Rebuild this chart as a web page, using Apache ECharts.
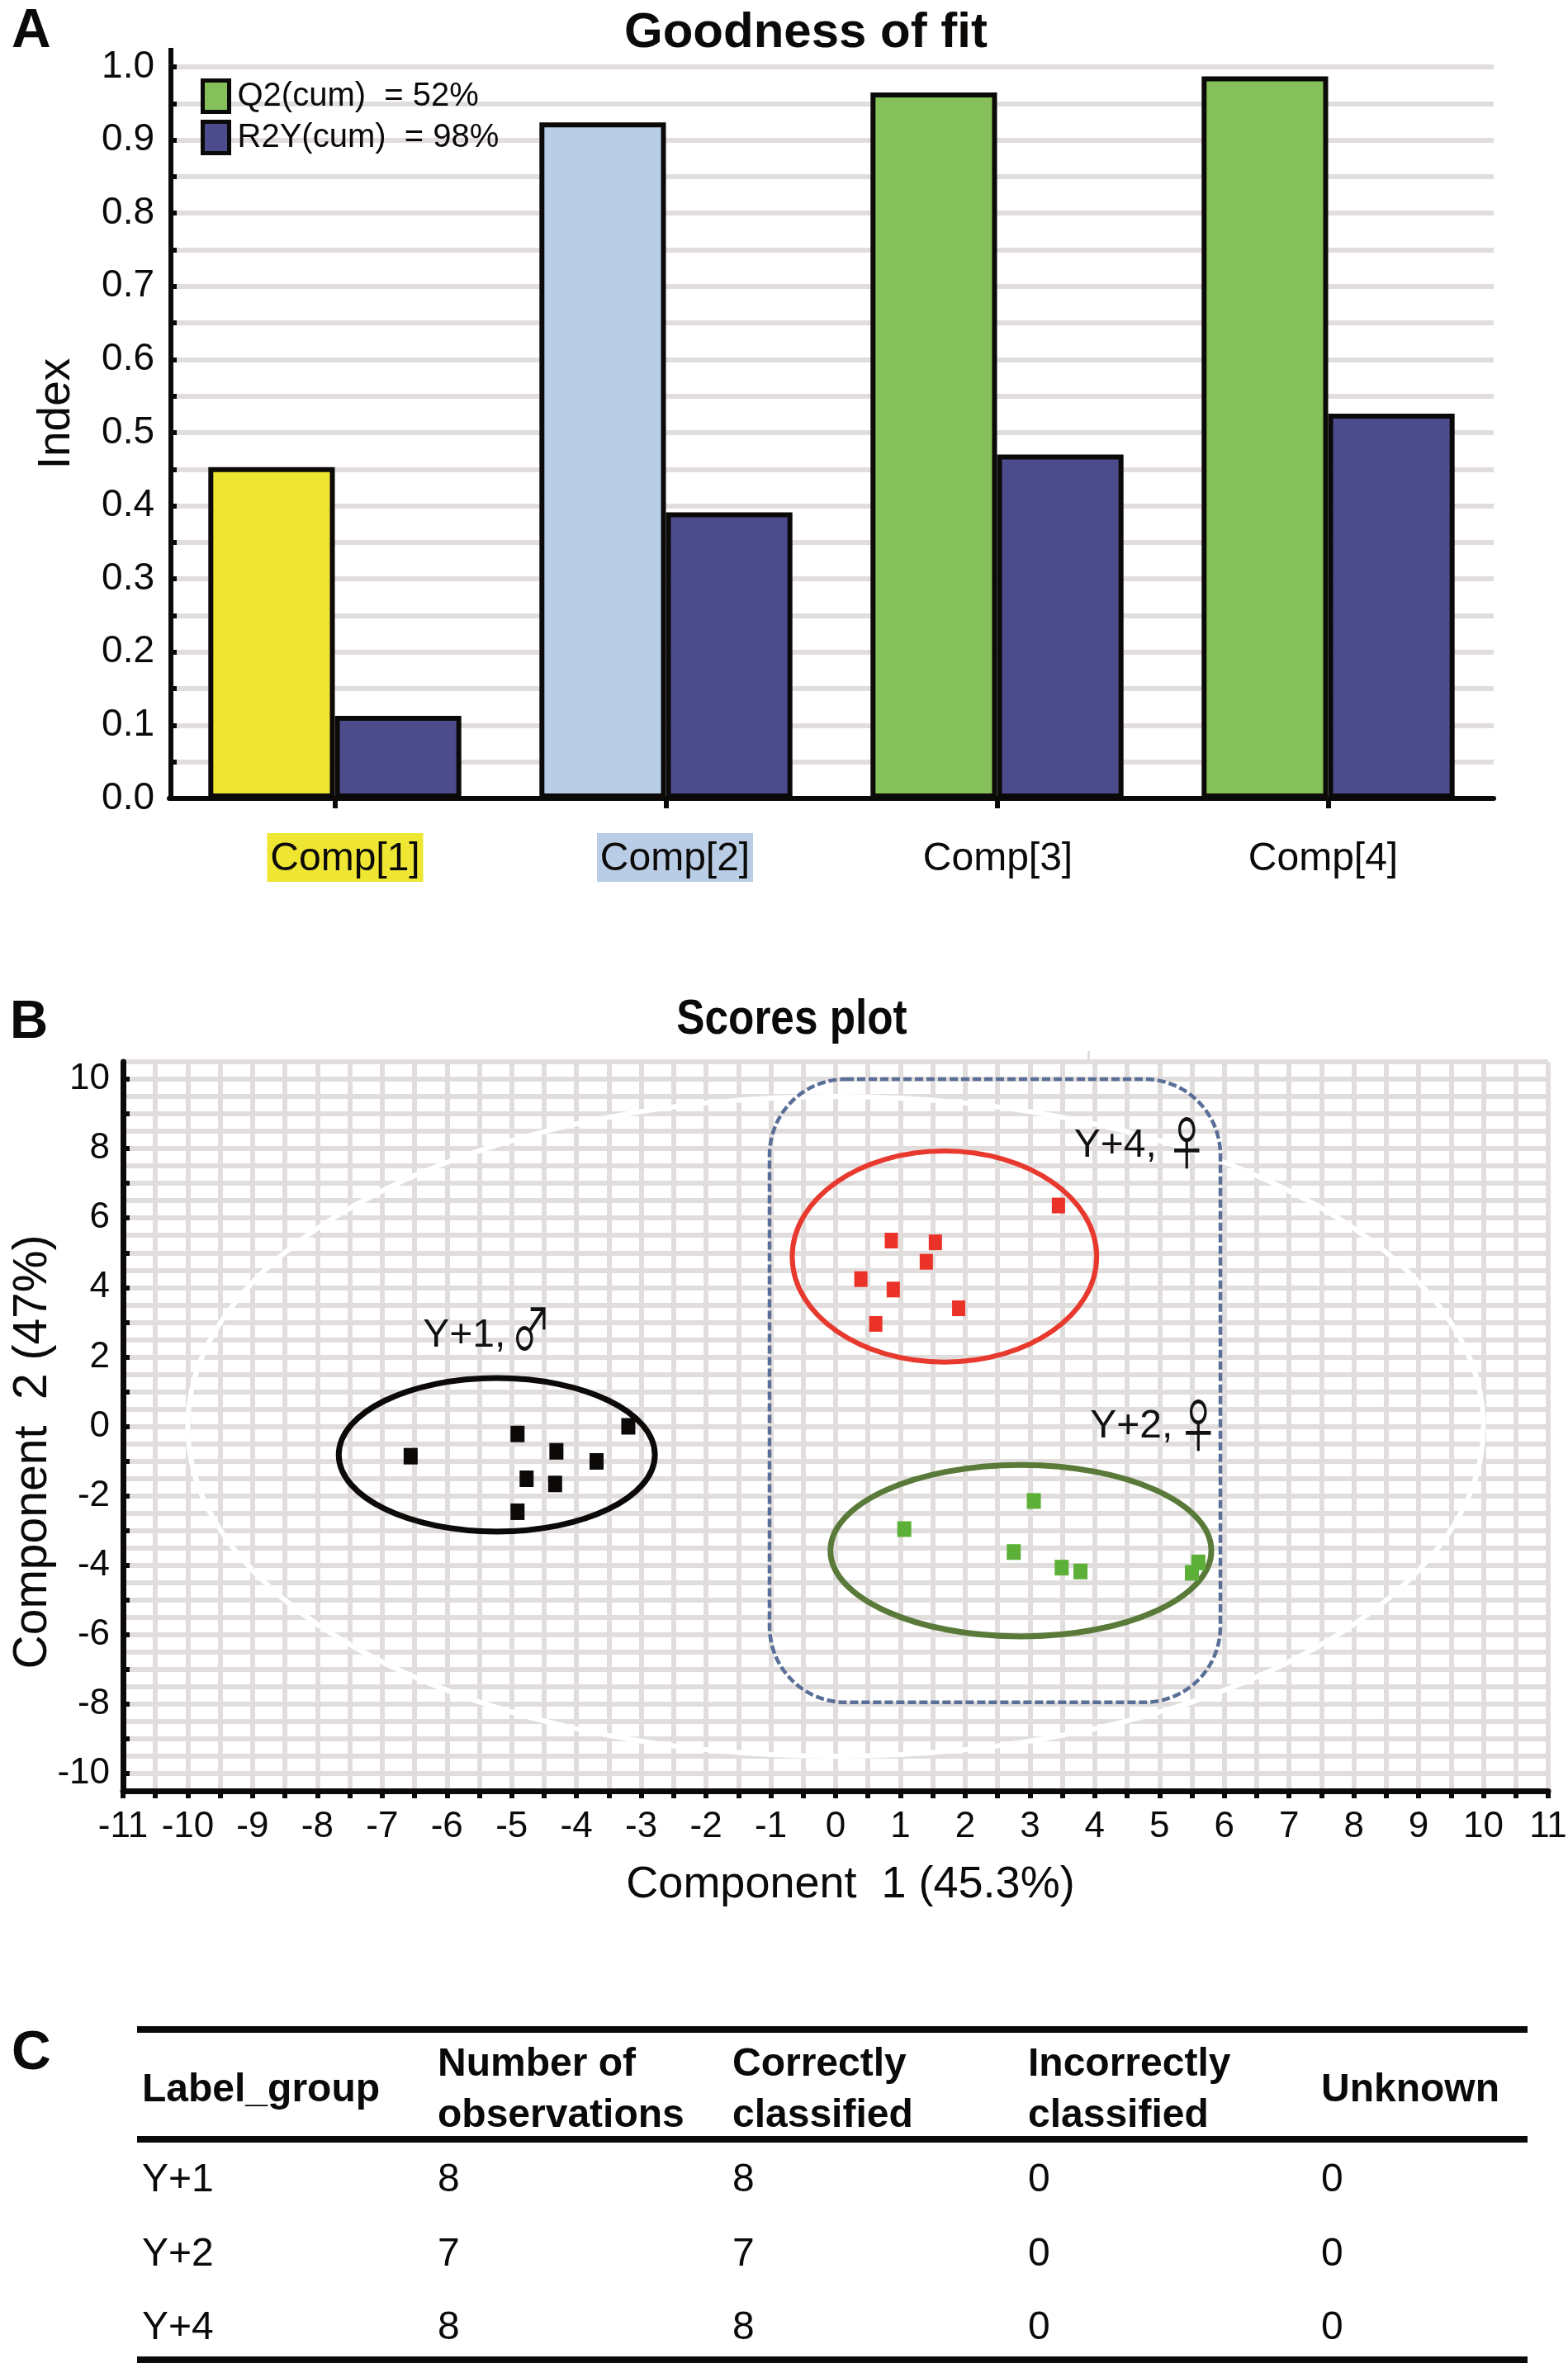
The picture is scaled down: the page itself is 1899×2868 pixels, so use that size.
<!DOCTYPE html>
<html><head><meta charset="utf-8">
<style>html,body{margin:0;padding:0;background:#fff}#c{width:1899px;height:2868px}</style>
<script src="https://cdn.jsdelivr.net/npm/echarts@6/dist/echarts.min.js"></script>
</head><body><div id="c"></div>
<script>
// ---- Panel A data
const compCategories = ['Comp[1]','Comp[2]','Comp[3]','Comp[4]'];
const q2Values = [0.453,0.924,0.965,0.987];
const r2yValues = [0.113,0.391,0.47,0.526];
const q2Colors = ['#eee633','#b9cde6','#86c05a','#86c05a'];
const legendNames = ['Q2(cum)  = 52%','R2Y(cum)  = 98%'];
// ---- Panel B data
const scoresY1 = [[-6.56,-0.86],[-4.91,-0.22],[-4.31,-0.72],[-4.77,-1.51],[-4.33,-1.66],[-3.69,-1.01],[-3.2,0],[-4.91,-2.46]];
const scoresY4 = [[3.44,6.36],[0.86,5.35],[1.54,5.30],[1.40,4.74],[0.39,4.24],[0.89,3.94],[1.90,3.40],[0.62,2.95]];
const scoresY2 = [[3.06,-2.15],[1.06,-2.96],[2.75,-3.62],[3.49,-4.07],[3.78,-4.18],[5.60,-3.92],[5.50,-4.22]];
const ellipseY1 = [-5.23,-0.82,2.44,2.21];
const ellipseY4 = [1.68,4.89,2.35,3.04];
const ellipseY2 = [2.86,-3.58,2.94,2.47];
const ellipseT2 = [0,0,10,9.5];
const groupBox = [-1.02,10,5.94,-7.95];
const noteTexts = ['Y+1,','Y+4,','Y+2,'];
const notePoints = [[-6.37,2.6],[3.68,8.07],[3.93,0]];
const genderTexts = ['\u2642','\u2640','\u2640'];
const genderPoints = [[-4.7,2.82],[5.42,8.17],[5.60,0.03]];
// ---- Panel C data
const tableHead = ['Label_group','Number of\nobservations','Correctly\nclassified','Incorrectly\nclassified','Unknown'];
const tableRows = [['Y+1','8','8','0','0'],['Y+2','7','7','0','0'],['Y+4','8','8','0','0']];

const SANS = '"Liberation Sans", Arial, sans-serif';
const GRIDC = '#e2dddd';
const INK = '#0c0a08';

function ellipseSeries(vals, color, lw, z){
  return {type:'custom',xAxisIndex:1,yAxisIndex:1,coordinateSystem:'cartesian2d',clip:false,z:z,silent:true,
    data:[vals],encode:{x:0,y:1},
    renderItem:function(p,api){
      const c=api.coord([api.value(0),api.value(1)]);
      const s=api.size([api.value(2),api.value(3)]);
      return {type:'ellipse',shape:{cx:c[0],cy:c[1],rx:s[0],ry:s[1]},style:{fill:null,stroke:color,lineWidth:lw}};
    }};
}
function textSeries(points,texts,font,align,sx){
  return {type:'custom',xAxisIndex:1,yAxisIndex:1,coordinateSystem:'cartesian2d',clip:false,z:6,silent:true,
    data:points,encode:{x:0,y:1},
    renderItem:function(p,api){
      const c=api.coord([api.value(0),api.value(1)]);
      return {type:'text',x:c[0],y:c[1],scaleX:sx,style:{text:texts[p.dataIndex],font:font,fill:'#111',align:align,verticalAlign:'middle'}};
    }};
}
function scatterSeries(name,data,color,size){
  return {type:'scatter',name:name,xAxisIndex:1,yAxisIndex:1,data:data,symbol:'rect',symbolSize:size,z:5,clip:false,
    itemStyle:{color:color,opacity:1},silent:true};
}

// Table drawn from arrays
const colX=[172,530,887,1245,1600];
const rowY=[2641,2731,2820];
const ruleY=[2454,2587,2854];
const tableGraphics=[];
ruleY.forEach(y=>tableGraphics.push({type:'rect',shape:{x:166,y:y,width:1684,height:8},style:{fill:INK}}));
tableHead.forEach((t,i)=>tableGraphics.push({type:'text',x:colX[i],y:2532,style:{text:t,font:'bold 48px '+SANS,fill:INK,lineHeight:62,verticalAlign:'middle',align:'left'}}));
tableRows.forEach((r,j)=>r.forEach((t,i)=>tableGraphics.push({type:'text',x:colX[i],y:rowY[j],style:{text:t,font:'48px '+SANS,fill:INK,verticalAlign:'middle',align:'left'}})));
const letter=(t,x,y,size)=>({type:'text',x:x,y:y,style:{text:t,font:'bold '+size+'px '+SANS,fill:INK,align:'left',verticalAlign:'middle'}});

const shift={ 'Comp[1]':'{s1| }{a|Comp[1]}', 'Comp[2]':'{s2| }{b|Comp[2]}', 'Comp[3]':'{s3| }{c|Comp[3]}', 'Comp[4]':'{c|Comp[4]}{s4| }' };
const labelBox={fontFamily:SANS,fontSize:48,color:INK,width:189,height:55,lineHeight:55,align:'center',padding:[4,0,0,0]};

const option={
  backgroundColor:'#fff',
  animation:false,
  textStyle:{fontFamily:SANS},
  title:[
    {text:'Goodness of fit',left:971,top:5,textAlign:'center',textStyle:{fontFamily:SANS,fontWeight:'bold',fontSize:60,color:INK}}
  ],
  legend:{show:true,orient:'vertical',left:238,top:90,icon:'rect',itemWidth:32,itemHeight:38,itemGap:7,data:legendNames,
    selectedMode:false,textStyle:{fontFamily:SANS,fontSize:40,color:INK,lineHeight:38,padding:[0,0,0,5]},
    itemStyle:{borderColor:INK,borderWidth:5}},
  grid:[
    {left:205,right:90,top:81,bottom:1901,outerBoundsMode:'none'},
    {left:149,right:24,top:1286,bottom:699,outerBoundsMode:'none'},
    {left:149,right:24,top:1307,bottom:720,outerBoundsMode:'none'}
  ],
  xAxis:[
    {type:'category',gridIndex:0,data:compCategories,
     axisLine:{lineStyle:{color:INK,width:6}},
     axisTick:{show:true,alignWithLabel:true,length:12,lineStyle:{color:INK,width:6}},
     axisLabel:{interval:0,margin:44,formatter:v=>shift[v],color:INK,
       rich:{
         a:Object.assign({},labelBox,{backgroundColor:'#eee633'}),
         b:Object.assign({},labelBox,{backgroundColor:'#b9cde6'}),
         c:labelBox,
         s1:{width:25,fontSize:10},s2:{width:22,fontSize:10},s3:{width:2,fontSize:10},s4:{width:12,fontSize:10}
       }},
     splitLine:{show:false}},
    {type:'value',gridIndex:1,min:-11,max:11,interval:0.5,
     name:'Component  1 (45.3%)',nameLocation:'middle',nameGap:87,
     nameTextStyle:{fontFamily:SANS,fontSize:54,color:INK,padding:[0,0,0,36]},
     axisLine:{onZero:false,lineStyle:{color:INK,width:7}},
     axisTick:{show:true,length:9,lineStyle:{color:INK,width:6}},
     axisLabel:{show:true,fontFamily:SANS,fontSize:44,color:INK,margin:22,showMinLabel:true,showMaxLabel:true,hideOverlap:false,
       formatter:v=>Number.isInteger(v)?String(v):''},
     splitLine:{show:true,lineStyle:{color:GRIDC,width:6}}},
    {type:'value',gridIndex:2,min:-11,max:11,show:false}
  ],
  yAxis:[
    {type:'value',gridIndex:0,min:0,max:1,interval:0.05,offset:-2,
     name:'Index',nameLocation:'middle',nameGap:111,
     nameTextStyle:{fontFamily:SANS,fontSize:55,color:INK,padding:[0,0,0,46]},
     axisLine:{show:true,lineStyle:{color:INK,width:6}},
     axisTick:{show:true,inside:true,length:7,lineStyle:{color:INK,width:6}},
     axisLabel:{fontFamily:SANS,fontSize:46,color:INK,margin:20,hideOverlap:false,
       formatter:v=>{const t=v*10;return Math.abs(t-Math.round(t))<1e-6?v.toFixed(1):'';}},
     splitLine:{show:true,lineStyle:{color:GRIDC,width:6}}},
    {type:'value',gridIndex:1,min:-10.5,max:10.5,interval:0.5,
     axisLine:{show:true,onZero:false,lineStyle:{color:INK,width:7}},
     axisTick:{show:false},axisLabel:{show:false},
     splitLine:{show:true,lineStyle:{color:GRIDC,width:6}}},
    {type:'value',gridIndex:2,min:-10,max:10,interval:1,
     name:'Component  2 (47%)',nameLocation:'middle',nameGap:80,nameMoveOverlap:false,
     nameTextStyle:{fontFamily:SANS,fontSize:57,color:INK,padding:[0,62,0,0]},
     axisLine:{show:false,onZero:false},
     axisTick:{show:true,inside:true,length:8,lineStyle:{color:INK,width:6}},
     axisLabel:{fontFamily:SANS,fontSize:44,color:INK,margin:16,hideOverlap:false,
       formatter:v=>(Math.round(v)%2===0?String(v):'')},
     splitLine:{show:false}}
  ],
  series:[
    {type:'bar',name:legendNames[0],xAxisIndex:0,yAxisIndex:0,barWidth:'38.2%',barGap:0,z:3,
     itemStyle:{color:'#86c05a',borderColor:INK,borderWidth:6},
     data:q2Values.map((v,i)=>({value:v,itemStyle:{color:q2Colors[i],borderColor:INK,borderWidth:6}}))},
    {type:'bar',name:legendNames[1],xAxisIndex:0,yAxisIndex:0,barWidth:'38.2%',barGap:0,z:3,
     itemStyle:{color:'#4c4b8c',borderColor:INK,borderWidth:6},data:r2yValues},
    ellipseSeries(ellipseT2,'#ffffff',6,2),
    {type:'custom',xAxisIndex:1,yAxisIndex:1,coordinateSystem:'cartesian2d',clip:false,z:3,silent:true,
     data:[groupBox],encode:{x:[0,2],y:[1,3]},
     renderItem:function(p,api){
       const a=api.coord([api.value(0),api.value(1)]),b=api.coord([api.value(2),api.value(3)]);
       return {type:'rect',shape:{x:a[0],y:a[1],width:b[0]-a[0],height:b[1]-a[1],r:92},
         style:{fill:null,stroke:'#5a6f98',lineWidth:4.5,lineDash:[10,4]}};
     }},
    ellipseSeries(ellipseY1,INK,7,4),
    ellipseSeries(ellipseY4,'#e8392f',6,4),
    ellipseSeries(ellipseY2,'#5a7a3a',7,4),
    scatterSeries('Y+1',scoresY1,'#0c0a08',[17,20]),
    scatterSeries('Y+4',scoresY4,'#ea3228',[16,19]),
    scatterSeries('Y+2',scoresY2,'#5cb038',[17,19]),
    textSeries(notePoints,noteTexts,'48px '+SANS,'left',1),
    textSeries(genderPoints,genderTexts,'70px "Noto Sans CJK JP"','center',0.68)
  ],
  graphic:{elements:[
    letter('A',14,39,66),letter('B',12,1239,64),letter('C',14,2488,66),
    {type:'text',x:959,y:1235,scaleX:0.855,style:{text:'Scores plot',font:'bold 60px '+SANS,fill:INK,align:'center',verticalAlign:'middle'}},
    {type:'rect',shape:{x:204,y:58,width:6,height:24},style:{fill:INK}},
    {type:'rect',shape:{x:1317,y:1273,width:3,height:10},style:{fill:GRIDC}},
    ...tableGraphics
  ]}
};
const chart=echarts.init(document.getElementById('c'),null,{renderer:'canvas',width:1899,height:2868});
chart.setOption(option);
</script></body></html>
